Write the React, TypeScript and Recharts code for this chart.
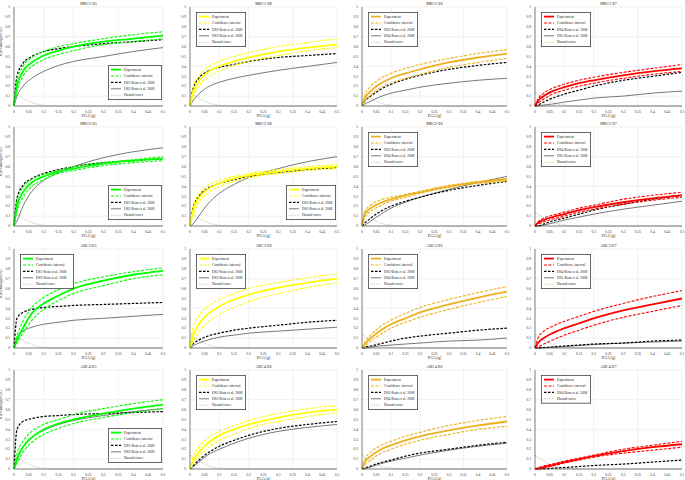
import { CartesianGrid, Line, LineChart, XAxis, YAxis } from 'recharts';

// PGA sample points [g] shared by every panel
const PGA = [0, 0.01, 0.03, 0.06, 0.1, 0.15, 0.2, 0.3, 0.4, 0.5];
const X_TICKS = [0, 0.05, 0.1, 0.15, 0.2, 0.25, 0.3, 0.35, 0.4, 0.45, 0.5];
const Y_TICKS = [0, 0.1, 0.2, 0.3, 0.4, 0.5, 0.6, 0.7, 0.8, 0.9, 1];
const HAZARD = [0.14, 0.12, 0.08, 0.035, 0.008, 0, 0, 0, 0, 0];

const ROWS = ['MRC1', 'MRC2', 'ARC3', 'ARC4'];
const COLS = ['E5', 'E8', 'E6', 'E7'];
const COL_COLORS = ['#00ff00', '#ffff00', '#edb120', '#ff0000'];
const DS_NAMES = [
  ['DS1', 'DS2'],
  ['DS2', 'DS3'],
  ['DS3', 'DS4'],
  ['DS4', 'DS5'],
];

// row 1
const mrc1E5 = {
  exp: [0, 0.2, 0.35, 0.44, 0.51, 0.56, 0.6, 0.65, 0.68, 0.71],
  hi: [0, 0.25, 0.4, 0.49, 0.55, 0.6, 0.63, 0.68, 0.72, 0.75],
  lo: [0, 0.15, 0.3, 0.4, 0.47, 0.52, 0.56, 0.62, 0.65, 0.68],
  dsA: [0, 0.3, 0.43, 0.5, 0.55, 0.58, 0.6, 0.63, 0.65, 0.67],
  dsB: [0, 0.1, 0.2, 0.28, 0.35, 0.41, 0.45, 0.5, 0.55, 0.59],
};
const mrc1E8 = {
  exp: [0, 0.13, 0.25, 0.34, 0.4, 0.45, 0.49, 0.55, 0.59, 0.62],
  hi: [0, 0.18, 0.3, 0.39, 0.45, 0.5, 0.54, 0.6, 0.64, 0.68],
  lo: [0, 0.09, 0.2, 0.29, 0.35, 0.41, 0.45, 0.51, 0.56, 0.59],
  dsA: [0, 0.17, 0.28, 0.35, 0.39, 0.42, 0.45, 0.49, 0.51, 0.53],
  dsB: [0, 0.05, 0.12, 0.19, 0.24, 0.28, 0.31, 0.36, 0.4, 0.44],
};
const mrc1E6 = {
  exp: [0, 0.08, 0.15, 0.22, 0.28, 0.33, 0.37, 0.44, 0.49, 0.53],
  hi: [0, 0.11, 0.2, 0.27, 0.33, 0.38, 0.42, 0.48, 0.53, 0.57],
  lo: [0, 0.05, 0.11, 0.18, 0.23, 0.28, 0.32, 0.39, 0.44, 0.48],
  dsA: [0, 0.05, 0.1, 0.16, 0.22, 0.27, 0.31, 0.37, 0.41, 0.44],
  dsB: [0, 0.02, 0.05, 0.09, 0.13, 0.16, 0.19, 0.23, 0.26, 0.28],
};
const mrc1E7 = {
  exp: [0, 0.05, 0.1, 0.15, 0.19, 0.23, 0.26, 0.31, 0.35, 0.38],
  hi: [0, 0.07, 0.13, 0.18, 0.22, 0.26, 0.29, 0.34, 0.38, 0.42],
  lo: [0, 0.03, 0.07, 0.12, 0.16, 0.2, 0.23, 0.28, 0.32, 0.35],
  dsA: [0, 0.01, 0.04, 0.08, 0.12, 0.16, 0.2, 0.26, 0.3, 0.34],
  dsB: [0, 0, 0.01, 0.02, 0.04, 0.06, 0.08, 0.1, 0.13, 0.15],
};

// row 2
const mrc2E5 = {
  exp: [0, 0.2, 0.34, 0.44, 0.5, 0.55, 0.58, 0.63, 0.66, 0.68],
  hi: [0, 0.25, 0.39, 0.47, 0.52, 0.56, 0.6, 0.64, 0.67, 0.7],
  lo: [0, 0.15, 0.29, 0.4, 0.47, 0.53, 0.56, 0.61, 0.64, 0.66],
  dsA: [0, 0.28, 0.41, 0.48, 0.53, 0.57, 0.6, 0.64, 0.66, 0.68],
  dsB: [0, 0.05, 0.2, 0.35, 0.46, 0.54, 0.6, 0.69, 0.75, 0.79],
};
const mrc2E8 = {
  exp: [0, 0.15, 0.28, 0.37, 0.43, 0.48, 0.51, 0.55, 0.58, 0.6],
  hi: [0, 0.19, 0.32, 0.41, 0.46, 0.5, 0.53, 0.57, 0.6, 0.62],
  lo: [0, 0.11, 0.24, 0.33, 0.4, 0.45, 0.49, 0.53, 0.56, 0.58],
  dsA: [0, 0.18, 0.3, 0.38, 0.43, 0.47, 0.5, 0.54, 0.57, 0.59],
  dsB: [0, 0.02, 0.1, 0.22, 0.33, 0.42, 0.49, 0.58, 0.65, 0.7],
};
const mrc2E6 = {
  exp: [0, 0.12, 0.18, 0.23, 0.27, 0.31, 0.34, 0.4, 0.44, 0.47],
  hi: [0, 0.15, 0.21, 0.26, 0.29, 0.32, 0.35, 0.41, 0.45, 0.48],
  lo: [0, 0.09, 0.15, 0.2, 0.25, 0.29, 0.33, 0.39, 0.43, 0.45],
  dsA: [0, 0.03, 0.08, 0.14, 0.2, 0.25, 0.29, 0.36, 0.41, 0.45],
  dsB: [0, 0.01, 0.05, 0.11, 0.18, 0.24, 0.29, 0.37, 0.44, 0.5],
};
const mrc2E7 = {
  exp: [0, 0.03, 0.06, 0.09, 0.12, 0.16, 0.19, 0.24, 0.28, 0.31],
  hi: [0, 0.04, 0.08, 0.11, 0.14, 0.18, 0.21, 0.27, 0.31, 0.34],
  lo: [0, 0.02, 0.04, 0.07, 0.1, 0.14, 0.17, 0.22, 0.26, 0.29],
  dsA: [0, 0, 0.02, 0.05, 0.08, 0.12, 0.16, 0.22, 0.27, 0.31],
  dsB: [0, 0, 0.01, 0.03, 0.06, 0.09, 0.12, 0.17, 0.21, 0.25],
};

// row 3
const arc3E5 = {
  exp: [0, 0.08, 0.2, 0.35, 0.45, 0.53, 0.6, 0.68, 0.74, 0.78],
  hi: [0, 0.12, 0.27, 0.41, 0.51, 0.59, 0.65, 0.72, 0.77, 0.81],
  lo: [0, 0.05, 0.15, 0.28, 0.39, 0.48, 0.55, 0.63, 0.7, 0.74],
  dsA: [0, 0.3, 0.36, 0.39, 0.41, 0.42, 0.43, 0.44, 0.45, 0.46],
  dsB: [0, 0.1, 0.17, 0.21, 0.24, 0.26, 0.28, 0.3, 0.32, 0.34],
};
const arc3E8 = {
  exp: [0, 0.12, 0.24, 0.34, 0.42, 0.49, 0.54, 0.61, 0.66, 0.7],
  hi: [0, 0.2, 0.33, 0.42, 0.49, 0.55, 0.6, 0.66, 0.71, 0.75],
  lo: [0, 0.06, 0.16, 0.26, 0.34, 0.41, 0.47, 0.55, 0.61, 0.66],
  dsA: [0, 0.04, 0.08, 0.12, 0.15, 0.18, 0.2, 0.23, 0.26, 0.28],
  dsB: [0, 0.02, 0.05, 0.08, 0.11, 0.13, 0.15, 0.17, 0.19, 0.21],
};
const arc3E6 = {
  exp: [0, 0.04, 0.1, 0.17, 0.24, 0.3, 0.36, 0.44, 0.51, 0.57],
  hi: [0, 0.06, 0.13, 0.21, 0.28, 0.35, 0.41, 0.49, 0.56, 0.62],
  lo: [0, 0.02, 0.07, 0.13, 0.2, 0.26, 0.31, 0.39, 0.46, 0.52],
  dsA: [0, 0.01, 0.02, 0.04, 0.07, 0.1, 0.12, 0.15, 0.18, 0.2],
  dsB: [0, 0, 0.01, 0.02, 0.03, 0.04, 0.05, 0.07, 0.08, 0.1],
};
const arc3E7 = {
  exp: [0, 0.05, 0.1, 0.15, 0.2, 0.25, 0.3, 0.38, 0.44, 0.5],
  hi: [0, 0.1, 0.17, 0.22, 0.27, 0.32, 0.37, 0.45, 0.52, 0.58],
  lo: [0, 0.01, 0.04, 0.08, 0.13, 0.18, 0.23, 0.31, 0.37, 0.43],
  dsA: [0, 0, 0.005, 0.01, 0.02, 0.03, 0.04, 0.05, 0.07, 0.08],
  dsB: [0, 0, 0.003, 0.008, 0.015, 0.025, 0.035, 0.05, 0.06, 0.07],
};

// row 4
const arc4E5 = {
  exp: [0, 0.1, 0.22, 0.32, 0.4, 0.46, 0.5, 0.56, 0.61, 0.65],
  hi: [0, 0.15, 0.28, 0.38, 0.45, 0.5, 0.55, 0.61, 0.66, 0.7],
  lo: [0, 0.06, 0.17, 0.27, 0.35, 0.41, 0.46, 0.52, 0.57, 0.61],
  dsA: [0, 0.4, 0.48, 0.51, 0.53, 0.54, 0.55, 0.56, 0.57, 0.58],
  dsB: [0, 0.1, 0.22, 0.32, 0.39, 0.45, 0.49, 0.54, 0.58, 0.61],
};
const arc4E8 = {
  exp: [0, 0.08, 0.17, 0.26, 0.34, 0.4, 0.45, 0.52, 0.57, 0.6],
  hi: [0, 0.12, 0.22, 0.31, 0.38, 0.44, 0.49, 0.56, 0.61, 0.64],
  lo: [0, 0.05, 0.13, 0.21, 0.29, 0.35, 0.41, 0.48, 0.53, 0.57],
  dsA: [0, 0.03, 0.09, 0.16, 0.23, 0.29, 0.34, 0.41, 0.45, 0.48],
  dsB: [0, 0.02, 0.07, 0.14, 0.2, 0.26, 0.31, 0.38, 0.42, 0.45],
};
const arc4E6 = {
  exp: [0, 0.07, 0.13, 0.19, 0.24, 0.29, 0.33, 0.39, 0.44, 0.48],
  hi: [0, 0.1, 0.17, 0.23, 0.28, 0.33, 0.37, 0.44, 0.49, 0.53],
  lo: [0, 0.04, 0.09, 0.15, 0.2, 0.25, 0.29, 0.35, 0.4, 0.43],
  dsA: [0, 0.01, 0.03, 0.06, 0.09, 0.13, 0.16, 0.2, 0.24, 0.27],
  dsB: [0, 0.005, 0.02, 0.05, 0.08, 0.11, 0.14, 0.19, 0.23, 0.26],
};
const arc4E7 = {
  exp: [0, 0.005, 0.02, 0.04, 0.07, 0.1, 0.13, 0.18, 0.22, 0.25],
  hi: [0, 0.01, 0.03, 0.05, 0.08, 0.11, 0.14, 0.2, 0.24, 0.28],
  lo: [0, 0.003, 0.01, 0.03, 0.06, 0.09, 0.12, 0.16, 0.19, 0.22],
  dsA: [0, 0, 0.003, 0.008, 0.015, 0.025, 0.035, 0.05, 0.07, 0.09],
  dsB: null,
};

const PANELS = [
  [mrc1E5, mrc1E8, mrc1E6, mrc1E7],
  [mrc2E5, mrc2E8, mrc2E6, mrc2E7],
  [arc3E5, arc3E8, arc3E6, arc3E7],
  [arc4E5, arc4E8, arc4E6, arc4E7],
];

// which panels carry their legend in the lower right corner
const LEGEND_LOW_RIGHT = [
  [true, false, false, false],
  [true, true, false, false],
  [false, false, false, false],
  [true, false, false, false],
];

// layout of the 4x4 grid (plot-area boxes)
const PLOT_LEFT = [14, 190, 362, 535];
const PLOT_W = [149, 147, 145, 147];
const PLOT_TOP = [7, 127, 249, 370];
const PLOT_H = 99;
const AXIS_W = 14;
const AXIS_H = 12;
const FONT = '"Liberation Serif", "DejaVu Serif", serif';
const TICK = { fontSize: 3.6, fill: '#333', fontFamily: FONT };

type PanelData = {
  exp: number[];
  hi: number[];
  lo: number[];
  dsA: number[];
  dsB: number[] | null;
};

function PanelLegend({ color, names, width }: { color: string; names: string[]; width: number }) {
  const items = [
    { name: 'Experiment', stroke: color, dash: undefined, w: 1.8 },
    { name: 'Confidence interval', stroke: color, dash: '3 1.5', w: 1.2 },
    ...names.map((n, i) => ({
      name: `${n}-Rota et al. 2008`,
      stroke: i === 0 ? '#000' : '#555',
      dash: i === 0 ? '2.5 1.5' : undefined,
      w: i === 0 ? 1.2 : 0.8,
    })),
    { name: 'Hazard curve', stroke: '#c4c4b4', dash: '0.8 0.8', w: 1 },
  ];
  const rowH = 6.4;
  const h = items.length * rowH + 3;
  return (
    <svg width={width} height={h} style={{ display: 'block' }}>
      <rect x={0.4} y={0.4} width={width - 0.8} height={h - 0.8} fill="#fff" stroke="#444" strokeWidth={0.8} />
      {items.map((it, i) => {
        const y = 4.6 + i * rowH;
        return (
          <g key={it.name}>
            <line x1={3} x2={13} y1={y} y2={y} stroke={it.stroke} strokeWidth={it.w} strokeDasharray={it.dash} />
            <text x={16} y={y + 1.2} fontSize={3.6} fontFamily={FONT} fill="#222">
              {it.name}
            </text>
          </g>
        );
      })}
    </svg>
  );
}

function Panel({ row, col }: { row: number; col: number }) {
  const p = PANELS[row][col] as PanelData;
  const color = COL_COLORS[col];
  const names = p.dsB ? DS_NAMES[col] : [DS_NAMES[col][0]];
  const left = PLOT_LEFT[col] - AXIS_W;
  const top = PLOT_TOP[row] - 7;
  const w = AXIS_W + PLOT_W[col] + 4;
  const h = 7 + PLOT_H + AXIS_H;
  const data = PGA.map((x, i) => ({
    x,
    exp: p.exp[i],
    hi: p.hi[i],
    lo: p.lo[i],
    dsA: p.dsA[i],
    dsB: p.dsB ? p.dsB[i] : null,
    hz: HAZARD[i],
  }));
  const lowRight = LEGEND_LOW_RIGHT[row][col];
  const legendW = col === 0 ? 54 : 50;
  const legendPos = lowRight
    ? { left: AXIS_W + PLOT_W[col] - legendW - 1, bottom: AXIS_H + 6 }
    : { left: AXIS_W + 6, top: 7 + 5 };

  return (
    <div style={{ position: 'absolute', left, top, width: w, height: h }}>
      <LineChart width={w} height={h} data={data} margin={{ top: 7, right: 4, bottom: 0, left: 0 }}>
        <CartesianGrid stroke="#e2e2e2" strokeWidth={0.5} />
        <XAxis
          dataKey="x"
          type="number"
          domain={[0, 0.5]}
          ticks={X_TICKS}
          height={AXIS_H}
          tick={TICK}
          tickLine={false}
          tickSize={2}
          axisLine={{ stroke: '#333', strokeWidth: 0.6 }}
          label={{ value: 'PGA [g]', position: 'insideBottom', offset: 1, fontSize: 4, fontFamily: FONT, fill: '#222' }}
        />
        <XAxis
          xAxisId="top"
          dataKey="x"
          type="number"
          domain={[0, 0.5]}
          orientation="top"
          height={0}
          tick={false}
          tickLine={false}
          axisLine={{ stroke: '#333', strokeWidth: 0.6 }}
        />
        <YAxis
          type="number"
          domain={[0, 1]}
          ticks={Y_TICKS}
          width={AXIS_W}
          tick={TICK}
          tickLine={false}
          tickSize={2}
          axisLine={{ stroke: '#333', strokeWidth: 0.6 }}
          label={
            col === 0
              ? { value: 'P(D>Damage|PGA)', angle: -90, position: 'insideLeft', offset: 1, fontSize: 3.6, fontFamily: FONT, fill: '#222' }
              : undefined
          }
        />
        <YAxis
          yAxisId="right"
          type="number"
          domain={[0, 1]}
          orientation="right"
          width={0}
          tick={false}
          tickLine={false}
          axisLine={{ stroke: '#333', strokeWidth: 0.6 }}
        />
        <Line dataKey="hz" type="monotone" stroke="#c4c4b4" strokeWidth={1} strokeDasharray="0.8 0.8" dot={false} isAnimationActive={false} />
        {p.dsB && (
          <Line dataKey="dsB" type="monotone" stroke="#555" strokeWidth={0.8} dot={false} isAnimationActive={false} />
        )}
        <Line dataKey="dsA" type="monotone" stroke="#000" strokeWidth={1.2} strokeDasharray="2.5 1.5" dot={false} isAnimationActive={false} />
        <Line dataKey="hi" type="monotone" stroke={color} strokeWidth={1.1} strokeDasharray="3 1.5" dot={false} isAnimationActive={false} />
        <Line dataKey="lo" type="monotone" stroke={color} strokeWidth={1.1} strokeDasharray="3 1.5" dot={false} isAnimationActive={false} />
        <Line dataKey="exp" type="monotone" stroke={color} strokeWidth={1.8} dot={false} isAnimationActive={false} />
      </LineChart>
      <div style={{ position: 'absolute', left: AXIS_W, top: 0, width: PLOT_W[col] }}>
        <svg width={PLOT_W[col]} height={6} style={{ display: 'block' }}>
          <text x={PLOT_W[col] / 2} y={4.5} textAnchor="middle" fontSize={4} fontFamily={FONT} fill="#222">
            {`${ROWS[row]}-${COLS[col]}`}
          </text>
        </svg>
      </div>
      <div style={{ position: 'absolute', ...legendPos }}>
        <PanelLegend color={color} names={names} width={legendW} />
      </div>
    </div>
  );
}

export default function App() {
  return (
    <div style={{ position: 'absolute', left: 0, top: 0, width: 685, height: 480, background: '#fff' }}>
      {ROWS.map((_, r) => COLS.map((__, c) => <Panel key={`${r}-${c}`} row={r} col={c} />))}
    </div>
  );
}
